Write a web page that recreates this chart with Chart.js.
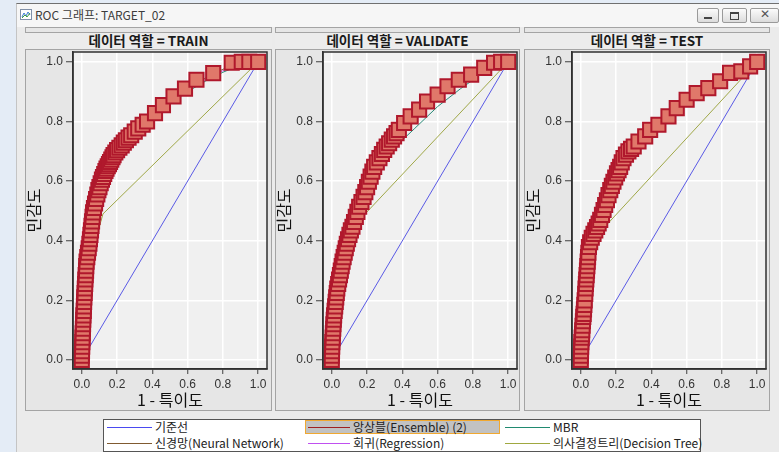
<!DOCTYPE html>
<html>
<head>
<meta charset="utf-8">
<script src="https://cdn.jsdelivr.net/npm/chart.js@4.4.0/dist/chart.umd.min.js"></script>
<style>
body{margin:0;width:779px;height:452px;overflow:hidden;background:#e4ecf6;position:relative;font-family:"Liberation Sans","Noto Sans CJK KR",sans-serif}
.abs{position:absolute}
#win{left:16px;top:3px;width:763px;height:449px;background:#f6f6f6;border-top:1px solid #707070;border-left:1px solid #c4c4c4}
#content{left:17px;top:27px;width:762px;height:425px;background:#ebebeb}
#title{left:35px;top:7px;font-size:12px;color:#3c3c3c;font-family:"Noto Sans CJK KR",sans-serif;line-height:16px}
.btn{top:8px;height:13px;border:1px solid #9a9a9a;border-radius:2px;background:linear-gradient(#fbfbfb,#dcdcdc)}
.panel{top:27px;height:384px;background:#e6e6e6;border:1px solid #a4a4a4;box-sizing:border-box}
.head{left:-1px;right:-1px;top:4px;height:16px;background:#ececec;border-top:1px solid #a4a4a4;border-bottom:1px solid #a4a4a4;text-align:center;font:bold 13.5px "Noto Sans CJK KR",sans-serif;line-height:15px;color:#1a1a1a}
canvas{position:absolute}
#legend{left:103px;top:419px;width:598px;height:33px;background:#fff;border:1px solid #555;box-sizing:border-box}
.lg{font:12px "Noto Sans CJK KR",sans-serif;color:#222;line-height:14px;white-space:nowrap}
.ln{height:1px}
</style>
</head>
<body>
<div class="abs" id="win"></div>
<div class="abs" id="content"></div>
<svg class="abs" style="left:20px;top:9px" width="12" height="11">
  <rect x="0.5" y="0.5" width="11" height="10" fill="#fff" stroke="#8090a8"/>
  <polyline points="2,8 4,4 6,7 8,3 10,6" fill="none" stroke="#3a7ad0" stroke-width="1"/>
  <polyline points="2,9 5,6 7,8 10,4" fill="none" stroke="#40a040" stroke-width="1"/>
</svg>
<div class="abs" id="title">ROC 그래프: TARGET_02</div>
<div class="abs btn" style="left:697px;width:20px"><div class="abs" style="left:6px;top:8px;width:8px;height:2px;background:#444"></div></div>
<div class="abs btn" style="left:722px;width:23px"><div class="abs" style="left:7px;top:3px;width:7px;height:5px;border:1px solid #444;border-top-width:2px"></div></div>
<div class="abs btn" style="left:750px;width:27px"><div class="abs" style="left:9px;top:-2px;font:bold 12px 'DejaVu Sans';color:#555">✕</div></div>

<div class="abs panel" style="left:25px;width:247px"><div class="abs head">데이터 역할 = TRAIN</div></div>
<div class="abs panel" style="left:275px;width:245px"><div class="abs head">데이터 역할 = VALIDATE</div></div>
<div class="abs panel" style="left:524px;width:246px"><div class="abs head">데이터 역할 = TEST</div></div>

<canvas id="c0" width="244" height="362" style="left:26px;top:48px"></canvas>
<canvas id="c1" width="244" height="362" style="left:276px;top:48px"></canvas>
<canvas id="c2" width="244" height="362" style="left:525px;top:48px"></canvas>

<div class="abs" id="legend"></div>
<div class="abs" style="left:305px;top:420px;width:195px;height:14px;background:#c2c2c2;border:1px solid #f0a830;box-sizing:border-box"></div>
<div class="abs ln" style="left:107px;top:427px;width:45px;background:#4a4af0"></div>
<div class="abs lg" style="left:155px;top:420px">기준선</div>
<div class="abs ln" style="left:308px;top:427px;width:42px;background:#a02020"></div>
<div class="abs lg" style="left:353px;top:420px">앙상블(Ensemble) (2)</div>
<div class="abs ln" style="left:505px;top:427px;width:45px;background:#208a70"></div>
<div class="abs lg" style="left:553px;top:420px">MBR</div>
<div class="abs ln" style="left:107px;top:443px;width:45px;background:#805a30"></div>
<div class="abs lg" style="left:155px;top:436px">신경망(Neural Network)</div>
<div class="abs ln" style="left:308px;top:443px;width:42px;background:#c050f0"></div>
<div class="abs lg" style="left:353px;top:436px">회귀(Regression)</div>
<div class="abs ln" style="left:505px;top:443px;width:45px;background:#a0a840"></div>
<div class="abs lg" style="left:553px;top:436px">의사결정트리(Decision Tree)</div>

<script>
// tick values used on both axes
const tickValues = [0, 0.2, 0.4, 0.6, 0.8, 1.0];

// reference line
const baseline = [[0, 0], [1, 1]];

// TRAIN
const trainEnsemble = [[0,0],[0,0.015],[0.001,0.03],[0.002,0.045],[0.003,0.06],[0.004,0.075],[0.005,0.09],[0.006,0.105],[0.007,0.12],[0.008,0.135],[0.009,0.15],[0.011,0.165],[0.012,0.18],[0.013,0.195],[0.014,0.21],[0.016,0.225],[0.017,0.24],[0.019,0.255],[0.02,0.27],[0.022,0.285],[0.024,0.3],[0.025,0.315],[0.027,0.33],[0.031,0.345],[0.035,0.36],[0.039,0.375],[0.043,0.39],[0.046,0.405],[0.049,0.42],[0.052,0.435],[0.055,0.45],[0.058,0.465],[0.061,0.48],[0.064,0.495],[0.069,0.51],[0.075,0.525],[0.081,0.54],[0.088,0.555],[0.094,0.57],[0.1,0.58],[0.107,0.593],[0.114,0.605],[0.12,0.614],[0.127,0.624],[0.134,0.634],[0.14,0.642],[0.147,0.65],[0.154,0.657],[0.16,0.664],[0.167,0.672],[0.174,0.68],[0.18,0.687],[0.19,0.696],[0.2,0.704],[0.213,0.712],[0.226,0.72],[0.238,0.729],[0.25,0.737],[0.265,0.746],[0.28,0.754],[0.3,0.766],[0.32,0.777],[0.345,0.789],[0.37,0.8],[0.415,0.828],[0.46,0.855],[0.52,0.884],[0.585,0.91],[0.65,0.94],[0.745,0.962],[0.85,0.997],[0.907,1],[0.95,1],[1,1]];
const trainMbr = [[0,0],[0.01,0.14],[0.03,0.31],[0.06,0.46],[0.1,0.565],[0.15,0.64],[0.2,0.69],[0.3,0.75],[0.4,0.805],[0.5,0.86],[0.6,0.9],[0.7,0.935],[0.8,0.965],[0.9,0.99],[1,1]];
const trainNeural = [[0,0],[0.01,0.15],[0.03,0.33],[0.06,0.48],[0.1,0.575],[0.15,0.65],[0.2,0.7],[0.3,0.76],[0.4,0.815],[0.5,0.87],[0.6,0.91],[0.7,0.945],[0.8,0.975],[0.9,0.995],[1,1]];
const trainRegression = [[0,0],[0.01,0.14],[0.03,0.32],[0.06,0.47],[0.1,0.57],[0.15,0.645],[0.2,0.695],[0.3,0.755],[0.4,0.81],[0.5,0.865],[0.6,0.905],[0.7,0.94],[0.8,0.97],[0.9,0.99],[1,1]];
const trainTree = [[0,0],[0.03,0.3],[0.12,0.49],[1,1]];

// VALIDATE
const validEnsemble = [[0,0],[0,0.015],[0.001,0.03],[0.002,0.045],[0.003,0.06],[0.005,0.075],[0.006,0.09],[0.008,0.105],[0.009,0.12],[0.011,0.135],[0.013,0.15],[0.016,0.165],[0.019,0.18],[0.022,0.195],[0.025,0.21],[0.028,0.225],[0.031,0.24],[0.036,0.255],[0.041,0.27],[0.046,0.285],[0.051,0.3],[0.056,0.315],[0.061,0.33],[0.067,0.345],[0.073,0.36],[0.079,0.375],[0.085,0.39],[0.092,0.405],[0.1,0.42],[0.108,0.435],[0.117,0.447],[0.126,0.463],[0.136,0.48],[0.145,0.497],[0.155,0.514],[0.168,0.53],[0.18,0.547],[0.19,0.563],[0.2,0.58],[0.21,0.598],[0.22,0.615],[0.23,0.632],[0.24,0.648],[0.255,0.663],[0.27,0.677],[0.284,0.691],[0.297,0.705],[0.311,0.716],[0.325,0.727],[0.34,0.739],[0.353,0.75],[0.367,0.761],[0.38,0.772],[0.41,0.795],[0.447,0.817],[0.495,0.84],[0.54,0.867],[0.6,0.89],[0.656,0.918],[0.72,0.94],[0.79,0.957],[0.864,0.98],[0.92,0.997],[0.96,1],[1,1]];
const validMbr = [[0,0],[0.01,0.12],[0.04,0.25],[0.09,0.38],[0.15,0.48],[0.2,0.55],[0.27,0.64],[0.35,0.71],[0.467,0.775],[0.6,0.85],[0.73,0.91],[0.85,0.96],[0.95,0.99],[1,1]];
const validNeural = [[0,0],[0.01,0.13],[0.04,0.26],[0.09,0.39],[0.15,0.5],[0.2,0.575],[0.27,0.67],[0.35,0.74],[0.45,0.81],[0.55,0.86],[0.65,0.91],[0.75,0.945],[0.85,0.975],[0.95,0.995],[1,1]];
const validRegression = [[0,0],[0.01,0.125],[0.04,0.255],[0.09,0.385],[0.15,0.495],[0.2,0.57],[0.27,0.665],[0.35,0.735],[0.45,0.805],[0.55,0.855],[0.65,0.905],[0.75,0.94],[0.85,0.97],[0.95,0.993],[1,1]];
const validTree = [[0,0],[0.05,0.3],[0.13,0.453],[1,1]];

// TEST
const testEnsemble = [[0,0],[0,0.015],[0.001,0.03],[0.002,0.045],[0.003,0.06],[0.005,0.075],[0.007,0.087],[0.008,0.1],[0.01,0.115],[0.012,0.13],[0.014,0.145],[0.016,0.155],[0.018,0.17],[0.02,0.185],[0.022,0.2],[0.025,0.222],[0.027,0.24],[0.029,0.255],[0.031,0.27],[0.033,0.285],[0.035,0.3],[0.037,0.315],[0.039,0.33],[0.041,0.345],[0.043,0.36],[0.046,0.379],[0.053,0.395],[0.062,0.41],[0.072,0.423],[0.082,0.435],[0.092,0.446],[0.101,0.458],[0.11,0.47],[0.12,0.487],[0.129,0.503],[0.138,0.52],[0.148,0.536],[0.157,0.553],[0.167,0.57],[0.176,0.584],[0.185,0.598],[0.195,0.612],[0.205,0.626],[0.214,0.637],[0.223,0.648],[0.232,0.663],[0.242,0.677],[0.256,0.689],[0.27,0.7],[0.285,0.708],[0.3,0.716],[0.327,0.733],[0.365,0.75],[0.393,0.772],[0.44,0.789],[0.497,0.817],[0.544,0.845],[0.6,0.873],[0.657,0.895],[0.723,0.912],[0.79,0.935],[0.846,0.963],[0.91,0.968],[0.96,0.985],[1,1]];
const testMbr = [[0,0],[0.01,0.1],[0.03,0.24],[0.05,0.36],[0.1,0.44],[0.16,0.54],[0.22,0.62],[0.28,0.665],[0.38,0.735],[0.535,0.83],[0.65,0.88],[0.8,0.94],[0.9,0.97],[1,1]];
const testNeural = [[0,0],[0.01,0.11],[0.03,0.25],[0.05,0.37],[0.1,0.45],[0.16,0.55],[0.22,0.64],[0.28,0.69],[0.38,0.76],[0.5,0.82],[0.6,0.87],[0.72,0.905],[0.85,0.955],[0.95,0.98],[1,1]];
const testRegression = [[0,0],[0.01,0.105],[0.03,0.245],[0.05,0.365],[0.1,0.445],[0.16,0.545],[0.22,0.635],[0.28,0.685],[0.38,0.755],[0.5,0.815],[0.6,0.865],[0.72,0.9],[0.85,0.95],[0.95,0.978],[1,1]];
const testTree = [[0,0],[0.03,0.3],[0.11,0.43],[1,1]];

function toPts(arr){
    return arr.map(p => ({x: p[0], y: p[1]}))
}

// grey plot background + dark frame round the plot area
const plotFrame = {
    id: 'plotFrame',
    beforeDraw(chart){
        const a = chart.chartArea, ctx = chart.ctx
        ctx.save()
        ctx.fillStyle = '#f0f0f0'
        ctx.fillRect(a.left, a.top, a.right - a.left, a.bottom - a.top)
        ctx.restore()
    },
    afterDraw(chart){
        const a = chart.chartArea, ctx = chart.ctx
        ctx.save()
        ctx.strokeStyle = '#303030'
        ctx.lineWidth = 1.5
        ctx.strokeRect(a.left, a.top, a.right - a.left, a.bottom - a.top)
        ctx.restore()
    }
}

function lineSet(label, pts, color, order){
    return {label: label, data: toPts(pts), showLine: true, fill: false, tension: 0,
            borderColor: color, borderWidth: 1, pointRadius: 0, order: order}
}

function makePanel(id, ensemble, mbr, neural, regression, tree){
    new Chart(document.getElementById(id), {
        type: 'scatter',
        data: {
            datasets: [
                {label: '앙상블(Ensemble) (2)', data: toPts(ensemble), showLine: false,
                 pointStyle: 'rect', pointRadius: 10, pointBorderWidth: 2,
                 backgroundColor: '#e0786a', borderColor: '#b0182c', order: 0},
                lineSet('MBR', mbr, '#2a8a78', 1),
                lineSet('신경망(Neural Network)', neural, '#7a5a3a', 2),
                lineSet('회귀(Regression)', regression, '#c060e0', 3),
                lineSet('의사결정트리(Decision Tree)', tree, '#a0a848', 4),
                lineSet('기준선', baseline, '#5a5ae6', 5)
            ]
        },
        options: {
            animation: false,
            responsive: false,
            events: [],
            layout: {autoPadding: false, padding: {left: 0, right: 3, top: 4, bottom: 0}},
            plugins: {legend: {display: false}, tooltip: {enabled: false}},
            scales: {
                x: {
                    type: 'linear', min: -0.05, max: 1.05,
                    afterBuildTicks: s => { s.ticks = tickValues.map(v => ({value: v})) },
                    afterFit: s => { s.height = 41; s.paddingLeft = 0; s.paddingRight = 0 },
                    grid: {color: '#ffffff', lineWidth: 1.5, tickColor: '#404040', tickLength: 5, tickWidth: 1},
                    border: {display: true, color: '#303030', width: 1.5},
                    ticks: {color: '#333', font: {size: 12, family: '"Liberation Sans", sans-serif'}, padding: 3, maxRotation: 0,
                            callback: v => v.toFixed(1)},
                    title: {display: true, text: '1 - 특이도', color: '#111',
                            font: {size: 16, family: '"Noto Sans CJK KR", sans-serif', lineHeight: 1.2}, padding: {top: 0, bottom: 0}}
                },
                y: {
                    type: 'linear', min: -0.03, max: 1.033,
                    afterBuildTicks: s => { s.ticks = tickValues.map(v => ({value: v})) },
                    afterFit: s => { s.width = 47; s.paddingTop = 0; s.paddingBottom = 0 },
                    grid: {color: '#ffffff', lineWidth: 1.5, tickColor: '#404040', tickLength: 7, tickWidth: 1},
                    border: {display: true, color: '#303030', width: 1.5},
                    ticks: {color: '#333', font: {size: 12, family: '"Liberation Sans", sans-serif'}, padding: 3,
                            callback: v => v.toFixed(1)},
                    title: {display: true, text: '민감도', color: '#111',
                            font: {size: 16, family: '"Noto Sans CJK KR", sans-serif', lineHeight: 1}, padding: 0}
                }
            }
        },
        plugins: [plotFrame]
    })
}

makePanel('c0', trainEnsemble, trainMbr, trainNeural, trainRegression, trainTree)
makePanel('c1', validEnsemble, validMbr, validNeural, validRegression, validTree)
makePanel('c2', testEnsemble, testMbr, testNeural, testRegression, testTree)
</script>
</body>
</html>
